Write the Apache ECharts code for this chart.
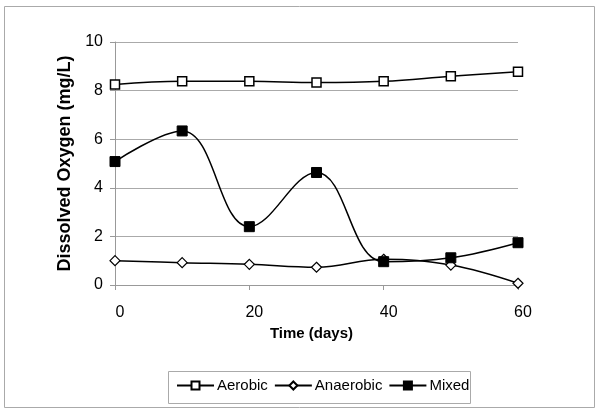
<!DOCTYPE html>
<html>
<head>
    <meta charset="utf-8">
    <title>Dissolved Oxygen</title>
    <script src="https://cdn.jsdelivr.net/npm/echarts@6/dist/echarts.min.js"></script>
</head>
<body style="margin:0;background:#fff;">
    <div id="main" style="width: 600px;height:413px;"></div>
    <script type="text/javascript">
        // data
        var days = [0, 10, 20, 30, 40, 50, 60];
        var aerobic = [8.25, 8.38, 8.38, 8.33, 8.38, 8.59, 8.78];
        var anaerobic = [1.0, 0.92, 0.85, 0.73, 1.06, 0.82, 0.07];
        var mixed = [5.08, 6.34, 2.40, 4.63, 0.96, 1.12, 1.74];

        function pairs(ys) {
            return days.map(function (d, i) { return [d, ys[i]]; });
        }

        var myChart = echarts.init(document.getElementById('main'));

        var lineStyle = { color: '#000', width: 1.5 };

        var option = {
            animation: false,
            backgroundColor: '#fff',
            textStyle: { fontFamily: 'Liberation Sans' },
            graphic: [
                {
                    type: 'rect',
                    shape: { x: 4.5, y: 6.5, width: 590, height: 401 },
                    style: { fill: 'none', stroke: '#aaa', lineWidth: 1 }
                },
                {
                    type: 'rect',
                    shape: { x: 168.5, y: 371.5, width: 302, height: 32 },
                    style: { fill: '#fff', stroke: '#aaa', lineWidth: 1 },
                    z: 0
                }
            ],
            grid: {
                left: 115,
                right: 82,
                top: 42,
                bottom: 128
            },
            legend: {
                left: 171,
                top: 373,
                itemWidth: 37,
                itemHeight: 10,
                itemGap: 6,
                textStyle: { fontFamily: 'Liberation Sans', fontSize: 15, color: '#000', padding: [0, 0, 0, -2] },
                data: ['Aerobic', 'Anaerobic', 'Mixed'],
                z: 10
            },
            xAxis: {
                type: 'value',
                min: 0,
                max: 60,
                interval: 20,
                name: 'Time (days)',
                nameLocation: 'middle',
                nameGap: 38,
                nameTextStyle: { fontSize: 15, fontWeight: 'bold', color: '#000', padding: [0, 10, 0, 0] },
                axisLine: { lineStyle: { color: '#999' } },
                axisTick: { show: true, length: 5, lineStyle: { color: '#999' } },
                axisLabel: { fontSize: 16, color: '#000', margin: 20, padding: [0, 0, 0, 10] },
                splitLine: { show: false }
            },
            yAxis: {
                type: 'value',
                min: 0,
                max: 10,
                interval: 2,
                name: 'Dissolved Oxygen (mg/L)',
                nameLocation: 'middle',
                nameGap: 38,
                nameTextStyle: { fontSize: 18, fontWeight: 'bold', color: '#000' },
                axisLine: { show: true, lineStyle: { color: '#999' } },
                axisTick: { show: true, length: 5, lineStyle: { color: '#999' } },
                axisLabel: { fontSize: 16, color: '#000', margin: 12 },
                splitLine: { lineStyle: { color: '#aaa' } }
            },
            series: [
                {
                    name: 'Aerobic',
                    type: 'line',
                    smooth: 0.4,
                    data: pairs(aerobic),
                    symbol: 'rect',
                    symbolSize: 9,
                    lineStyle: lineStyle,
                    itemStyle: { color: '#fff', borderColor: '#000', borderWidth: 1.5 }
                },
                {
                    name: 'Anaerobic',
                    type: 'line',
                    smooth: 0.4,
                    data: pairs(anaerobic),
                    symbol: 'diamond',
                    symbolSize: 10,
                    lineStyle: lineStyle,
                    itemStyle: { color: '#fff', borderColor: '#000', borderWidth: 1.2 }
                },
                {
                    name: 'Mixed',
                    type: 'line',
                    smooth: 0.4,
                    data: pairs(mixed),
                    symbol: 'rect',
                    symbolSize: 10,
                    lineStyle: lineStyle,
                    itemStyle: { color: '#000', borderColor: '#000', borderWidth: 1 }
                }
            ]
        };

        myChart.setOption(option);
    </script>
</body>
</html>
